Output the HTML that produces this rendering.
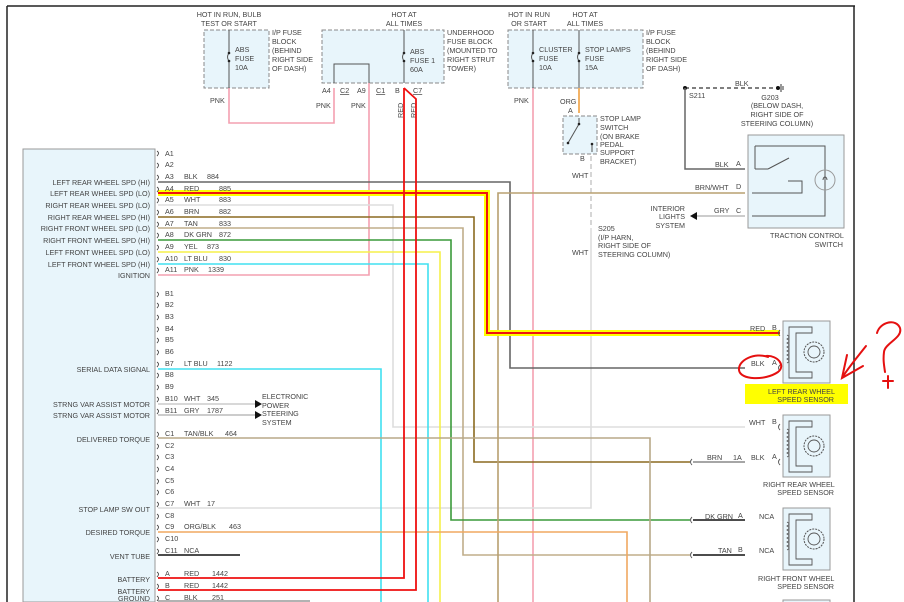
<!DOCTYPE html>
<html><head><meta charset="utf-8"><style>
html,body{margin:0;padding:0;background:#fff;width:904px;height:602px;overflow:hidden;}
svg{display:block;}
text{font-family:"Liberation Sans",sans-serif;font-size:7.2px;fill:#444;}
.r{text-anchor:end;}
.w{fill:none;stroke-linejoin:miter;}
</style></head><body>
<svg width="904" height="602" viewBox="0 0 904 602" xmlns="http://www.w3.org/2000/svg" overflow="hidden">
<rect width="904" height="602" fill="#fff"/>
<line x1="7" y1="6" x2="855" y2="6" stroke="#222" stroke-width="1.5"/>
<line x1="7" y1="6" x2="7" y2="602" stroke="#222" stroke-width="1.5"/>
<line x1="854" y1="6" x2="854" y2="602" stroke="#222" stroke-width="1.5"/>

<rect x="23" y="149" width="132" height="453" fill="#e8f5fb" stroke="#999" stroke-width="1"/>

<rect x="204" y="30" width="65" height="58" fill="#e8f5fb" stroke="#888" stroke-dasharray="4,2"/>
<rect x="322" y="30" width="122" height="53" fill="#e8f5fb" stroke="#888" stroke-dasharray="4,2"/>
<rect x="508" y="30" width="135" height="58" fill="#e8f5fb" stroke="#888" stroke-dasharray="4,2"/>
<rect x="563" y="116" width="34" height="38" fill="#e8f5fb" stroke="#888" stroke-dasharray="4,2"/>
<g stroke="#555" stroke-width="1" fill="none">
<line x1="229" y1="30" x2="229" y2="53"/><path d="M229 53 q-3 4 0 8"/><line x1="229" y1="61" x2="229" y2="88"/>
<line x1="404" y1="30" x2="404" y2="53"/><path d="M404 53 q-3 4 0 8"/><line x1="404" y1="61" x2="404" y2="83"/>
<line x1="533" y1="30" x2="533" y2="53"/><path d="M533 53 q-3 4 0 8"/><line x1="533" y1="61" x2="533" y2="88"/>
<line x1="579" y1="30" x2="579" y2="53"/><path d="M579 53 q-3 4 0 8"/><line x1="579" y1="61" x2="579" y2="88"/>
<path d="M334 83 V64 H369 V83"/>
<path d="M579 118 V124 L568 143"/><path d="M592 144 V152"/>
</g>
<g fill="#222"><circle cx="229" cy="53" r="1.3"/><circle cx="229" cy="61" r="1.3"/><circle cx="404" cy="53" r="1.3"/><circle cx="404" cy="61" r="1.3"/><circle cx="533" cy="53" r="1.3"/><circle cx="533" cy="61" r="1.3"/><circle cx="579" cy="53" r="1.3"/><circle cx="579" cy="61" r="1.3"/><circle cx="579" cy="124" r="1.3"/><circle cx="568" cy="143" r="1.3"/><circle cx="592" cy="144" r="1.3"/></g>

<text x="229" y="17" text-anchor="middle">HOT IN RUN, BULB</text>
<text x="229" y="26" text-anchor="middle">TEST OR START</text>
<text x="235" y="52">ABS</text><text x="235" y="61">FUSE</text><text x="235" y="70">10A</text>
<text x="272" y="35">I/P FUSE</text><text x="272" y="44">BLOCK</text><text x="272" y="53">(BEHIND</text><text x="272" y="62">RIGHT SIDE</text><text x="272" y="71">OF DASH)</text>
<text x="404" y="17" text-anchor="middle">HOT AT</text><text x="404" y="26" text-anchor="middle">ALL TIMES</text>
<text x="410" y="54">ABS</text><text x="410" y="63">FUSE 1</text><text x="410" y="72">60A</text>
<text x="447" y="35">UNDERHOOD</text><text x="447" y="44">FUSE BLOCK</text><text x="447" y="53">(MOUNTED TO</text><text x="447" y="62">RIGHT STRUT</text><text x="447" y="71">TOWER)</text>
<text x="529" y="17" text-anchor="middle">HOT IN RUN</text><text x="529" y="26" text-anchor="middle">OR START</text>
<text x="585" y="17" text-anchor="middle">HOT AT</text><text x="585" y="26" text-anchor="middle">ALL TIMES</text>
<text x="539" y="52">CLUSTER</text><text x="539" y="61">FUSE</text><text x="539" y="70">10A</text>
<text x="585" y="52">STOP LAMPS</text><text x="585" y="61">FUSE</text><text x="585" y="70">15A</text>
<text x="646" y="35">I/P FUSE</text><text x="646" y="44">BLOCK</text><text x="646" y="53">(BEHIND</text><text x="646" y="62">RIGHT SIDE</text><text x="646" y="71">OF DASH)</text>
<text x="322" y="93">A4</text><text x="340" y="93" text-decoration="underline">C2</text>
<text x="357" y="93">A9</text><text x="376" y="93" text-decoration="underline">C1</text>
<text x="395" y="93">B</text><text x="413" y="93" text-decoration="underline">C7</text>
<text x="210" y="103">PNK</text><text x="316" y="108">PNK</text><text x="351" y="108">PNK</text>
<text x="514" y="103">PNK</text><text x="560" y="104">ORG</text><text x="568" y="113">A</text><text x="580" y="161">B</text>
<text x="403" y="118" transform="rotate(-90 403 118)">RED</text>
<text x="416" y="118" transform="rotate(-90 416 118)">RED</text>
<text x="600" y="121">STOP LAMP</text><text x="600" y="130">SWITCH</text><text x="600" y="139">(ON BRAKE</text><text x="600" y="147">PEDAL</text><text x="600" y="155">SUPPORT</text><text x="600" y="164">BRACKET)</text>
<text x="572" y="178">WHT</text><text x="572" y="255">WHT</text>
<text x="598" y="231">S205</text><text x="598" y="240">(I/P HARN,</text><text x="598" y="248">RIGHT SIDE OF</text><text x="598" y="257">STEERING COLUMN)</text>

<line x1="685" y1="88" x2="778" y2="88" stroke="#333" stroke-width="1.3" stroke-dasharray="4,3"/>
<circle cx="685" cy="88" r="2" fill="#111"/><circle cx="778" cy="88" r="2" fill="#111"/>
<path d="M781 84 V92 M783 86 V90" stroke="#333" stroke-width="1"/>
<text x="735" y="86">BLK</text><text x="689" y="98">S211</text>
<text x="770" y="100" text-anchor="middle">G203</text><text x="777" y="108" text-anchor="middle">(BELOW DASH,</text><text x="777" y="117" text-anchor="middle">RIGHT SIDE OF</text><text x="777" y="126" text-anchor="middle">STEERING COLUMN)</text>
<path d="M685 88 V169 H745" class="w" stroke="#666" stroke-width="1.5"/>
<rect x="748" y="135" width="96" height="93" fill="#e8f5fb" stroke="#999"/>
<g stroke="#555" stroke-width="1" fill="none">
<path d="M755 169 H768 M768 169 L789 158 M755 146 V169"/><path d="M755 146 H825 V216 H752"/>
<path d="M752 193 H802 V181 H788"/>
<circle cx="825" cy="180" r="10" stroke="#999"/><path d="M823 180 a2 3 0 1 1 4 0"/>
</g>
<text x="715" y="167">BLK</text><text x="736" y="166">A</text>
<text x="695" y="190">BRN/WHT</text><text x="736" y="189">D</text>
<text x="714" y="213">GRY</text><text x="736" y="213">C</text>
<line x1="693" y1="216" x2="745" y2="216" stroke="#bbb" stroke-width="1.5"/>
<path d="M690 216 L697 212 V220 Z" fill="#111"/>
<text x="685" y="211" class="r">INTERIOR</text><text x="685" y="219" class="r">LIGHTS</text><text x="685" y="228" class="r">SYSTEM</text>
<text x="770" y="238">TRACTION CONTROL</text><text x="843" y="247" class="r">SWITCH</text>

<g class="w" stroke-width="1.6">
<path d="M229 88 V123 H334 V88" stroke="#f4a0b0"/>
<path d="M158 275 H369 V83" stroke="#f4a0b0"/>
<path d="M533 88 V602" stroke="#f4a0b0"/>
<path d="M579 88 V113" stroke="#f0a040"/>
<path d="M591 156 V228" stroke="#ccc" stroke-dasharray="5,3"/>
<path d="M158 508 H591 V228" stroke="#ddd"/>
<path d="M158 182 H510 V368 H745" stroke="#666"/>
<path d="M158 205 H393 V427 H745" stroke="#ddd"/>
<path d="M158 217 H474 V462 H690" stroke="#8b6a20"/>
<path d="M693 462 H745" stroke="#888"/>
<path d="M158 228 H463 V555 H690" stroke="#c0ad8a"/>
<path d="M158 240 H451 V520 H690" stroke="#3a9a3a"/>
<path d="M158 252 H440 V602" stroke="#f5f04a"/>
<path d="M158 264 H428 V602" stroke="#40e0f0"/>
<path d="M158 369 H381 V602" stroke="#40e0f0"/>
<path d="M158 438 H650 V602" stroke="#b8a888"/>
<path d="M498 602 V193 H745" stroke="#b8a070"/>
<path d="M158 532 H627 V602" stroke="#f0a860"/>
<path d="M158 404 H255" stroke="#ccc"/><path d="M158 415 H255" stroke="#bbb"/>
<path d="M158 555 H240" stroke="#111"/>
<path d="M158 601 H310" stroke="#999"/>
<path d="M693 520 H745 M693 555 H745" stroke="#111"/>
</g>
<path d="M255 400 L262 404 L255 408Z M255 411 L262 415 L255 419Z" fill="#111"/>
<text x="262" y="399">ELECTRONIC</text><text x="262" y="408">POWER</text><text x="262" y="416">STEERING</text><text x="262" y="425">SYSTEM</text>
<path d="M158 193 H487 V333 H780" fill="none" stroke="#ffff00" stroke-width="6"/>
<path d="M158 193 H487 V333 H780" fill="none" stroke="#ee1111" stroke-width="2"/>
<path d="M404 88 V578 H158" fill="none" stroke="#ee1111" stroke-width="1.8"/>
<path d="M404 88 L416 99 V590 H158" fill="none" stroke="#ee1111" stroke-width="1.8"/>

<g>
<text x="150" y="185" class="r">LEFT REAR WHEEL SPD (HI)</text>
<text x="150" y="196" class="r">LEFT REAR WHEEL SPD (LO)</text>
<text x="150" y="208" class="r">RIGHT REAR WHEEL SPD (LO)</text>
<text x="150" y="220" class="r">RIGHT REAR WHEEL SPD (HI)</text>
<text x="150" y="231" class="r">RIGHT FRONT WHEEL SPD (LO)</text>
<text x="150" y="243" class="r">RIGHT FRONT WHEEL SPD (HI)</text>
<text x="150" y="255" class="r">LEFT FRONT WHEEL SPD (LO)</text>
<text x="150" y="267" class="r">LEFT FRONT WHEEL SPD (HI)</text>
<text x="150" y="278" class="r">IGNITION</text>
<text x="150" y="372" class="r">SERIAL DATA SIGNAL</text>
<text x="150" y="407" class="r">STRNG VAR ASSIST MOTOR</text>
<text x="150" y="418" class="r">STRNG VAR ASSIST MOTOR</text>
<text x="150" y="442" class="r">DELIVERED TORQUE</text>
<text x="150" y="512" class="r">STOP LAMP SW OUT</text>
<text x="150" y="535" class="r">DESIRED TORQUE</text>
<text x="150" y="559" class="r">VENT TUBE</text>
<text x="150" y="582" class="r">BATTERY</text>
<text x="150" y="594" class="r">BATTERY</text>
<text x="150" y="601" class="r">GROUND</text>
</g>
<g>
<text x="165" y="156">A1</text><text x="165" y="167">A2</text><text x="165" y="179">A3</text><text x="165" y="191">A4</text><text x="165" y="202">A5</text><text x="165" y="214">A6</text><text x="165" y="226">A7</text><text x="165" y="237">A8</text><text x="165" y="249">A9</text><text x="165" y="261">A10</text><text x="165" y="272">A11</text>
<text x="165" y="296">B1</text><text x="165" y="307">B2</text><text x="165" y="319">B3</text><text x="165" y="331">B4</text><text x="165" y="342">B5</text><text x="165" y="354">B6</text><text x="165" y="366">B7</text><text x="165" y="377">B8</text><text x="165" y="389">B9</text><text x="165" y="401">B10</text><text x="165" y="413">B11</text>
<text x="165" y="436">C1</text><text x="165" y="448">C2</text><text x="165" y="459">C3</text><text x="165" y="471">C4</text><text x="165" y="483">C5</text><text x="165" y="494">C6</text><text x="165" y="506">C7</text><text x="165" y="518">C8</text><text x="165" y="529">C9</text><text x="165" y="541">C10</text><text x="165" y="553">C11</text>
<text x="165" y="576">A</text><text x="165" y="588">B</text><text x="165" y="600">C</text>
<text x="184" y="179">BLK</text><text x="207" y="179">884</text>
<text x="184" y="191">RED</text><text x="219" y="191">885</text>
<text x="184" y="202">WHT</text><text x="219" y="202">883</text>
<text x="184" y="214">BRN</text><text x="219" y="214">882</text>
<text x="184" y="226">TAN</text><text x="219" y="226">833</text>
<text x="184" y="237">DK GRN</text><text x="219" y="237">872</text>
<text x="184" y="249">YEL</text><text x="207" y="249">873</text>
<text x="184" y="261">LT BLU</text><text x="219" y="261">830</text>
<text x="184" y="272">PNK</text><text x="208" y="272">1339</text>
<text x="184" y="366">LT BLU</text><text x="217" y="366">1122</text>
<text x="184" y="401">WHT</text><text x="207" y="401">345</text>
<text x="184" y="413">GRY</text><text x="207" y="413">1787</text>
<text x="184" y="436">TAN/BLK</text><text x="225" y="436">464</text>
<text x="184" y="506">WHT</text><text x="207" y="506">17</text>
<text x="184" y="529">ORG/BLK</text><text x="229" y="529">463</text>
<text x="184" y="553">NCA</text>
<text x="184" y="576">RED</text><text x="212" y="576">1442</text>
<text x="184" y="588">RED</text><text x="212" y="588">1442</text>
<text x="184" y="600">BLK</text><text x="212" y="600">251</text>
</g>
<g stroke="#444" stroke-width="0.9" fill="none">
<path d="M157 151 q3 2 0 5 M157 163 q3 2 0 5 M157 175 q3 2 0 5 M157 187 q3 2 0 5 M157 198 q3 2 0 5 M157 210 q3 2 0 5 M157 222 q3 2 0 5 M157 233 q3 2 0 5 M157 245 q3 2 0 5 M157 257 q3 2 0 5 M157 268 q3 2 0 5"/>
<path d="M157 292 q3 2 0 5 M157 303 q3 2 0 5 M157 315 q3 2 0 5 M157 327 q3 2 0 5 M157 338 q3 2 0 5 M157 350 q3 2 0 5 M157 362 q3 2 0 5 M157 373 q3 2 0 5 M157 385 q3 2 0 5 M157 397 q3 2 0 5 M157 409 q3 2 0 5"/>
<path d="M157 432 q3 2 0 5 M157 444 q3 2 0 5 M157 455 q3 2 0 5 M157 467 q3 2 0 5 M157 479 q3 2 0 5 M157 490 q3 2 0 5 M157 502 q3 2 0 5 M157 514 q3 2 0 5 M157 525 q3 2 0 5 M157 537 q3 2 0 5 M157 549 q3 2 0 5 M157 572 q3 2 0 5 M157 584 q3 2 0 5 M157 596 q3 2 0 5"/>
</g>

<g id="s">
<rect x="783" y="321" width="47" height="62" fill="#e8f5fb" stroke="#999"/>
<path d="M812 327 V333 H796 V372 H812 V378 H789 V327 Z" fill="none" stroke="#555" stroke-width="0.9"/>
<path d="M787 335 q4 2 0 4 q4 2 0 4 q4 2 0 4 q4 2 0 4 q4 2 0 4 q4 2 0 4 q4 2 0 4" fill="none" stroke="#555" stroke-width="0.8"/>
<circle cx="814" cy="352" r="10" fill="none" stroke="#555" stroke-width="1" stroke-dasharray="2,1"/>
<circle cx="814" cy="352" r="6" fill="none" stroke="#555" stroke-width="0.9"/>
</g>
<use href="#s" y="94"/><use href="#s" y="187"/>
<path d="M783 602 V600 H830 V602" fill="#e8f5fb" stroke="#999"/>
<g stroke="#555" stroke-width="0.9" fill="none">
<path d="M780 330 q-3 3 0 6 M780 365 q-3 3 0 6 M780 424 q-3 3 0 6 M780 459 q-3 3 0 6 M692 459 q-3 3 0 6 M692 517 q-3 3 0 6 M692 552 q-3 3 0 6"/>
</g>
<text x="750" y="331">RED</text><text x="772" y="330">B</text>
<text x="751" y="366">BLK</text><text x="772" y="365">A</text>
<text x="749" y="425">WHT</text><text x="772" y="424">B</text>
<text x="707" y="460">BRN</text><text x="733" y="460">1A</text><text x="751" y="460">BLK</text><text x="772" y="459">A</text>
<text x="705" y="519">DK GRN</text><text x="738" y="518">A</text><text x="759" y="519">NCA</text>
<text x="718" y="553">TAN</text><text x="738" y="552">B</text><text x="759" y="553">NCA</text>
<rect x="745" y="384" width="103" height="20" fill="#ffff00"/>
<text x="768" y="394">LEFT REAR WHEEL</text><text x="834" y="402" class="r">SPEED SENSOR</text>
<text x="763" y="487">RIGHT REAR WHEEL</text><text x="834" y="495" class="r">SPEED SENSOR</text>
<text x="758" y="581">RIGHT FRONT WHEEL</text><text x="834" y="589" class="r">SPEED SENSOR</text>

<g stroke="#e51010" stroke-width="2" fill="none" stroke-linecap="round">
<path d="M768 357 C755 352 738 360 739 370 C740 380 765 381 778 372 C786 366 778 355 766 356"/>
<path d="M866 346 C855 360 848 368 842 378 M847 355 L842 378 L863 366"/>
<path d="M877 333 C880 322 896 318 900 328 C903 338 885 343 884 352 C883 360 884 365 885 372"/>
<path d="M883 381 H893 M888 376 V388"/>
</g>
</svg>
</body></html>
